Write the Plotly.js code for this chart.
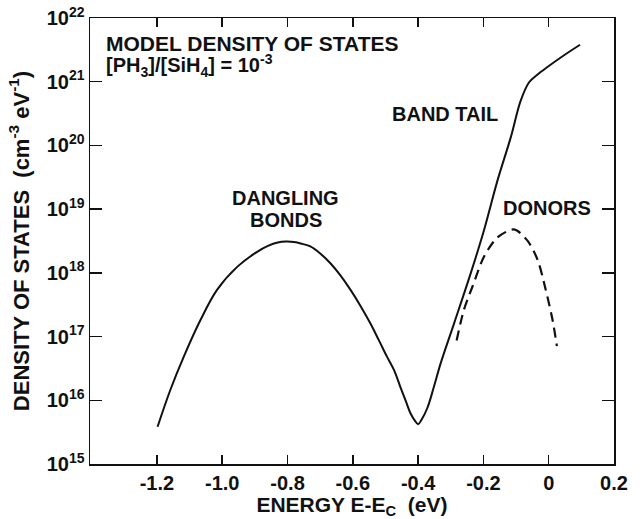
<!DOCTYPE html>
<html>
<head>
<meta charset="utf-8">
<script src="https://cdn.plot.ly/plotly-3.0.1.min.js"></script>
<style>html,body{margin:0;padding:0;background:#fff;}#chart{width:642px;height:519px;}</style>
</head>
<body>
<div id="chart"></div>
<script>
// Solid curve: dangling bonds + band tail (energy in eV, density in cm^-3 eV^-1)
const totalEnergy = [-1.198, -1.159, -1.118, -1.067, -1.016, -0.955, -0.893, -0.860, -0.830, -0.805, -0.780, -0.755, -0.730, -0.699, -0.668, -0.638, -0.607, -0.576, -0.546, -0.520, -0.495, -0.474, -0.454, -0.437, -0.423, -0.410, -0.400, -0.390, -0.372, -0.352, -0.331, -0.290, -0.239, -0.198, -0.157, -0.116, -0.086, -0.060, -0.034, -0.004, 0.047, 0.096];
const totalDensity = [3.85e15, 1.45e16, 4.8e16, 1.8e17, 5.4e17, 1.23e18, 2.14e18, 2.65e18, 3.0e18, 3.1e18, 3.05e18, 2.85e18, 2.6e18, 2.0e18, 1.4e18, 9.1e17, 5.4e17, 3.0e17, 1.6e17, 8.7e16, 4.8e16, 3.0e16, 1.6e16, 9.5e15, 6.2e15, 4.8e15, 4.2e15, 4.9e15, 7.5e15, 1.6e16, 3.8e16, 1.6e17, 9.8e17, 4.7e18, 2.8e19, 1.35e20, 5.0e20, 9.8e20, 1.3e21, 1.7e21, 2.6e21, 3.8e21];

// Dashed curve: donors
const donorEnergy = [-0.282, -0.260, -0.234, -0.198, -0.157, -0.106, -0.065, -0.034, -0.009, 0.012, 0.025];
const donorDensity = [8.7e16, 2.6e17, 6.0e17, 1.8e18, 3.6e18, 4.8e18, 3.2e18, 1.6e18, 5.4e17, 1.8e17, 7.1e16];

// Axis ticks
const xTickVals = [-1.2, -1.0, -0.8, -0.6, -0.4, -0.2, 0, 0.2];
const xTickText = ["-1.2", "-1.0", "-0.8", "-0.6", "-0.4", "-0.2", "0", "0.2"];
const yTickVals = [1e15, 1e16, 1e17, 1e18, 1e19, 1e20, 1e21, 1e22];
const yTickText = ["10<sup>15</sup>", "10<sup>16</sup>", "10<sup>17</sup>", "10<sup>18</sup>", "10<sup>19</sup>", "10<sup>20</sup>", "10<sup>21</sup>", "10<sup>22</sup>"];

const FONT = "Liberation Sans, Arial, Helvetica, sans-serif";
const INK = "#111";
const f = (s) => ({family: FONT, size: s, color: INK, weight: "bold"});

const traces = [
  {x: totalEnergy, y: totalDensity, mode: "lines", line: {color: INK, width: 2, shape: "spline", smoothing: 1}, hoverinfo: "skip"},
  {x: donorEnergy, y: donorDensity, mode: "lines", line: {color: INK, width: 2.2, dash: "10px,6px", shape: "spline", smoothing: 0.8}, hoverinfo: "skip"}
];

const layout = {
  width: 642, height: 519,
  margin: {l: 90, r: 28, t: 18, b: 55},
  paper_bgcolor: "#fff", plot_bgcolor: "#fff",
  showlegend: false,
  font: f(20),
  xaxis: {
    range: [-1.405, 0.2], tickvals: xTickVals, ticktext: xTickText,
    ticks: "inside", ticklen: 9, tickwidth: 1.5, tickcolor: INK,
    showline: true, linecolor: INK, linewidth: 1.5, mirror: "ticks",
    showgrid: false, zeroline: false,
    tickfont: f(20),
    title: {text: "ENERGY E-E<sub>C</sub>  (eV)", font: f(21), standoff: 2}
  },
  yaxis: {
    type: "log", range: [15, 22], tickvals: yTickVals, ticktext: yTickText,
    ticks: "inside", ticklen: 12, tickwidth: 1.5, tickcolor: INK,
    showline: true, linecolor: INK, linewidth: 1.5, mirror: "ticks",
    showgrid: false, zeroline: false,
    tickfont: f(20),
    title: {text: "DENSITY OF STATES  (cm<sup>-3</sup> eV<sup>-1</sup>)", font: f(22), standoff: 11}
  },
  annotations: [
    {xref: "paper", yref: "paper", x: 0.026, y: 0.942, xanchor: "left", yanchor: "middle", showarrow: false, text: "MODEL DENSITY OF STATES", font: f(21)},
    {xref: "paper", yref: "paper", x: 0.026, y: 0.894, xanchor: "left", yanchor: "middle", showarrow: false, text: "[PH<sub>3</sub>]/[SiH<sub>4</sub>] = 10<sup>-3</sup>", font: f(20)},
    {xref: "paper", yref: "paper", x: 0.374, y: 0.596, xanchor: "center", yanchor: "middle", showarrow: false, text: "DANGLING", font: f(20)},
    {xref: "paper", yref: "paper", x: 0.374, y: 0.547, xanchor: "center", yanchor: "middle", showarrow: false, text: "BONDS", font: f(20)},
    {xref: "paper", yref: "paper", x: 0.678, y: 0.785, xanchor: "center", yanchor: "middle", showarrow: false, text: "BAND TAIL", font: f(20)},
    {xref: "paper", yref: "paper", x: 0.8716, y: 0.575, xanchor: "center", yanchor: "middle", showarrow: false, text: "DONORS", font: f(20)}
  ]
};

Plotly.newPlot("chart", traces, layout, {displayModeBar: false, staticPlot: true});
</script>
</body>
</html>
